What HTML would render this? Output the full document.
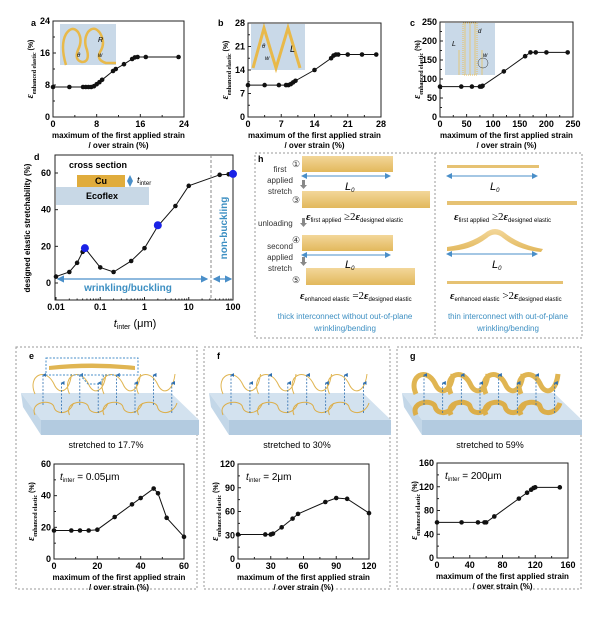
<!DOCTYPE html>
<html><head><meta charset="utf-8"><style>
html,body{margin:0;padding:0;background:#fff;}
svg{display:block;font-family:"Liberation Sans",sans-serif;}
</style></head><body>
<svg id="s" xmlns="http://www.w3.org/2000/svg" width="600" height="623" viewBox="0 0 600 623">
<defs>
<marker id="ah" markerWidth="6" markerHeight="6" refX="5" refY="3" orient="auto"><path d="M0,0L6,3L0,6z" fill="#4a8fc9"/></marker>
<marker id="ahs" markerWidth="6" markerHeight="6" refX="1" refY="3" orient="auto"><path d="M6,0L0,3L6,6z" fill="#4a8fc9"/></marker>
<marker id="up" markerWidth="5" markerHeight="5" refX="2.5" refY="1" orient="auto"><path d="M0,5L2.5,0L5,5z" fill="#2e6fb0"/></marker>
<linearGradient id="gold" x1="0" y1="0" x2="0" y2="1"><stop offset="0" stop-color="#f3d79a"/><stop offset="1" stop-color="#e2b85c"/></linearGradient>
</defs>
<g id="g"></g>
</svg>
<script>
const NS="http://www.w3.org/2000/svg";
const G=document.getElementById("g");
function el(t,a,txt){const e=document.createElementNS(NS,t);for(const k in a)e.setAttribute(k,a[k]);if(txt!==undefined)e.textContent=txt;G.appendChild(e);return e;}
function html(s){G.insertAdjacentHTML("beforeend",s);}
function ylab(x,y,size){
 html(`<text transform="translate(${x},${y}) rotate(-90)" text-anchor="middle" font-size="${size}" font-weight="bold"><tspan font-family="Liberation Serif,serif" font-style="italic" font-size="${size+3}">ε</tspan><tspan font-family="Liberation Serif,serif" font-size="${size-1}" dy="3">enhanced elastic</tspan><tspan dy="-3"> (%)</tspan></text>`);
}
function plot(o){
 const {x0,x1,y0,y1,xmin,xmax,ymin,ymax}=o;
 const X=v=>x0+(v-xmin)/(xmax-xmin)*(x1-x0), Y=v=>y1-(v-ymin)/(ymax-ymin)*(y1-y0);
 el("rect",{x:x0,y:y0,width:x1-x0,height:y1-y0,fill:"none",stroke:"#222","stroke-width":1});
 o.xt.forEach((v,i)=>{el("line",{x1:X(v),x2:X(v),y1:y1,y2:y1-3,stroke:"#222"});el("text",{x:X(v),y:y1+10,"text-anchor":"middle","font-size":9,"font-weight":"bold"},v);
  if(i<o.xt.length-1){const m=(v+o.xt[i+1])/2;el("line",{x1:X(m),x2:X(m),y1:y1,y2:y1-2,stroke:"#222"});}});
 o.yt.forEach((v,i)=>{el("line",{x1:x0,x2:x0+3,y1:Y(v),y2:Y(v),stroke:"#222"});el("text",{x:x0-3,y:Y(v)+3,"text-anchor":"end","font-size":9,"font-weight":"bold"},v);
  if(i<o.yt.length-1){const m=(v+o.yt[i+1])/2;el("line",{x1:x0,x2:x0+2,y1:Y(m),y2:Y(m),stroke:"#222"});}});
 el("polyline",{points:o.d.map(p=>X(p[0])+","+Y(p[1])).join(" "),fill:"none",stroke:"#111","stroke-width":1});
 o.d.forEach(p=>el("circle",{cx:X(p[0]),cy:Y(p[1]),r:2.3,fill:"#111"}));
 const cx=(x0+x1)/2;
 el("text",{x:cx,y:y1+21,"text-anchor":"middle","font-size":8,"font-weight":"bold"},"maximum of the first applied strain");
 el("text",{x:cx,y:y1+31,"text-anchor":"middle","font-size":8,"font-weight":"bold"},"/ over strain (%)");
 ylab(x0-20,(y0+y1)/2,7);
 if(o.lab) el("text",{x:o.lab[0],y:o.lab[1],"font-size":9,"font-weight":"bold"},o.lab[2]);
 return {X,Y};
}
// inset a
el("rect",{x:60,y:24,width:56,height:41,fill:"#c9d9e8"});
html(`<path d="M66,65 Q60,45 66,34 Q72,25 78,32 Q83,40 78,50 Q74,60 82,62 Q90,62 87,50 Q83,40 88,32 Q94,25 100,33 Q106,43 100,52 Q96,60 106,63 L116,63" fill="none" stroke="#e8b94a" stroke-width="2.5"/>
<text x="98" y="42" font-size="7" font-style="italic">R</text><text x="77" y="57" font-size="6" font-style="italic">θ</text><text x="98" y="57" font-size="6" font-style="italic">w</text>`);
plot({x0:53,x1:184,y0:21,y1:117,xmin:0,xmax:24,ymin:0,ymax:24,xt:[0,8,16,24],yt:[0,8,16,24],lab:[31,26,"a"],
 d:[[0,7.5],[3,7.5],[5.5,7.5],[6,7.5],[6.5,7.5],[7,7.5],[7.5,7.7],[8,8.2],[8.5,8.7],[9,9.3],[11,11.5],[11.5,12],[13,13.2],[14.5,14.5],[15,14.9],[15.5,15],[17,15],[23,15]]});
// inset b
el("rect",{x:251,y:24,width:54,height:46,fill:"#c9d9e8"});
html(`<path d="M253,68 L264,28 L276,68 L288,28 L300,68" fill="none" stroke="#e8b94a" stroke-width="3"/><text x="262" y="48" font-size="6" font-style="italic">θ</text><text x="265" y="60" font-size="6" font-style="italic">w</text><text x="290" y="52" font-size="9" font-style="italic">L</text>`);
plot({x0:248,x1:381,y0:23,y1:117,xmin:0,xmax:28,ymin:0,ymax:28,xt:[0,7,14,21,28],yt:[0,7,14,21,28],lab:[218,26,"b"],
 d:[[0,9.5],[3.5,9.5],[6.5,9.5],[8,9.5],[8.5,9.5],[9,9.8],[9.5,10.3],[10,10.8],[14,14],[17.5,17.5],[18,18.3],[18.5,18.6],[19,18.6],[21,18.6],[24,18.6],[27,18.6]]});
// inset c
el("rect",{x:445,y:23,width:50,height:52,fill:"#c9d9e8"});
html(`<g stroke="#e3c77a" stroke-width="1"><path d="M465,23V75M470,23V75M475,23V75M459,50V75M482,50V75M475,23V50" /></g>
<rect x="463" y="23" width="14" height="52" fill="none" stroke="#e8c060" stroke-dasharray="1,1"/>
<text x="452" y="46" font-size="7" font-style="italic">L</text><text x="478" y="33" font-size="6" font-style="italic">d</text><text x="483" y="57" font-size="6" font-style="italic">w</text><circle cx="483" cy="63" r="5" fill="none" stroke="#333" stroke-width="0.5"/>`);
plot({x0:440,x1:573,y0:22,y1:117,xmin:0,xmax:250,ymin:0,ymax:250,xt:[0,50,100,150,200,250],yt:[0,50,100,150,200,250],lab:[410,26,"c"],
 d:[[0,80],[40,80],[60,80],[75,80],[78,80],[80,82],[120,120],[160,160],[170,170],[180,170],[200,170],[240,170]]});

// panel d
(function(){
 const x0=55,x1=233,y0=155,y1=300;
 const X=v=>56+(Math.log10(v)+2)*44.25, Y=v=>283-v*110/60;
 el("rect",{x:x0,y:y0,width:x1-x0,height:y1-y0,fill:"none",stroke:"#222"});
 [0.01,0.1,1,10,100].forEach(v=>{el("line",{x1:X(v),x2:X(v),y1:y1,y2:y1-3,stroke:"#222"});el("text",{x:X(v),y:y1+10,"text-anchor":"middle","font-size":9,"font-weight":"bold"},v);});
 for(let d=-2;d<2;d++)for(let k=2;k<10;k++){const x=X(k*Math.pow(10,d));el("line",{x1:x,x2:x,y1:y1,y2:y1-1.5,stroke:"#222"});}
 [0,20,40,60].forEach(v=>{el("line",{x1:x0,x2:x0+3,y1:Y(v),y2:Y(v),stroke:"#222"});el("text",{x:x0-4,y:Y(v)+3,"text-anchor":"end","font-size":9,"font-weight":"bold"},v);});
 html(`<text transform="translate(30,228) rotate(-90)" text-anchor="middle" font-size="8" font-weight="bold">designed elastic stretchability (%)</text>`);
 html(`<text x="135" y="327" text-anchor="middle" font-size="11"><tspan font-style="italic">t</tspan><tspan font-size="7" dy="2">inter</tspan><tspan dy="-2"> (μm)</tspan></text>`);
 el("text",{x:34,y:160,"font-size":9,"font-weight":"bold"},"d");
 el("text",{x:69,y:168,"font-size":9,"font-weight":"bold"},"cross section");
 el("rect",{x:77,y:175,width:48,height:12,fill:"#e0ac3c"});
 el("text",{x:101,y:184,"text-anchor":"middle","font-size":9,"font-weight":"bold"},"Cu");
 el("rect",{x:56,y:187,width:93,height:18,fill:"#c8d8e6"});
 el("text",{x:102,y:199,"text-anchor":"middle","font-size":9,"font-weight":"bold"},"Ecoflex");
 el("line",{x1:130,x2:130,y1:176,y2:186,stroke:"#4a8fc9","marker-end":"url(#ah)","marker-start":"url(#ahs)"});
 html(`<text x="137" y="183" font-size="9"><tspan font-style="italic">t</tspan><tspan font-size="6" dy="2">inter</tspan></text>`);
 const d=[[0.01,3.5],[0.02,6],[0.03,11],[0.04,17],[0.045,19],[0.1,8.5],[0.2,6],[0.5,12],[1,19],[2,31],[5,42],[10,53],[50,59],[80,59.3],[100,59.5]];
 el("polyline",{points:d.map(p=>X(p[0])+","+Y(p[1])).join(" "),fill:"none",stroke:"#111"});
 d.forEach(p=>el("circle",{cx:X(p[0]),cy:Y(p[1]),r:2.3,fill:"#111"}));
 [[0.045,19],[2,31.5],[100,59.5]].forEach(p=>el("circle",{cx:X(p[0]),cy:Y(p[1]),r:4,fill:"#1a22e6"}));
 el("line",{x1:211,x2:211,y1:y0,y2:y1,stroke:"#888","stroke-dasharray":"3,2"});
 el("line",{x1:58,x2:207,y1:279,y2:279,stroke:"#4a8fc9","stroke-width":1.2,"marker-end":"url(#ah)","marker-start":"url(#ahs)"});
 el("line",{x1:214,x2:231,y1:279,y2:279,stroke:"#4a8fc9","stroke-width":1.2,"marker-end":"url(#ah)","marker-start":"url(#ahs)"});
 el("text",{x:128,y:291,"text-anchor":"middle","font-size":10,"font-weight":"bold",fill:"#3d8fc2"},"wrinkling/buckling");
 html(`<text transform="translate(227,228) rotate(-90)" text-anchor="middle" font-size="10" font-weight="bold" fill="#3d8fc2">non-buckling</text>`);
})();

// panel h
el("rect",{x:255,y:153,width:327,height:185,fill:"none",stroke:"#999","stroke-dasharray":"2,2"});
el("line",{x1:435,x2:435,y1:153,y2:338,stroke:"#999","stroke-dasharray":"2,2"});
html(`<g font-size="8" fill="#333">
<text x="258" y="162" font-weight="bold" fill="#000" font-size="9">h</text>
<text x="280" y="172" text-anchor="middle">first</text><text x="280" y="183" text-anchor="middle">applied</text><text x="280" y="194" text-anchor="middle">stretch</text>
<text x="258" y="226">unloading</text>
<text x="280" y="249" text-anchor="middle">second</text><text x="280" y="260" text-anchor="middle">applied</text><text x="280" y="271" text-anchor="middle">stretch</text>
<text x="292" y="167" font-size="9">①</text><text x="292" y="203" font-size="9">③</text><text x="292" y="243" font-size="9">④</text><text x="292" y="283" font-size="9">⑤</text>
</g>
<g fill="#888"><path d="M302,180h3v5h2l-3.5,4l-3.5,-4h2z"/><path d="M302,218h3v5h2l-3.5,4l-3.5,-4h2z"/><path d="M302,257h3v5h2l-3.5,4l-3.5,-4h2z"/></g>
<rect x="302" y="156" width="91" height="16" fill="url(#gold)"/><rect x="302" y="191" width="128" height="17" fill="url(#gold)"/>
<rect x="302" y="235" width="91" height="16" fill="url(#gold)"/><rect x="306" y="268" width="109" height="17" fill="url(#gold)"/>
<rect x="447" y="165" width="92" height="3" fill="#e6c273"/><rect x="447" y="201" width="130" height="4" fill="#e6c273"/>
<path d="M447,247 Q470,244 485,233 Q495,225 505,233 Q520,245 543,249 L541,252 Q518,250 503,238 Q495,231 487,238 Q470,251 447,251z" fill="url(#gold)"/>
<rect x="447" y="281" width="116" height="3" fill="#e6c273"/>
</g>`);
[[302,390,176],[302,390,255],[447,537,176],[447,537,254]].forEach(a=>el("line",{x1:a[0],x2:a[1],y1:a[2],y2:a[2],stroke:"#4a8fc9","marker-end":"url(#ah)","marker-start":"url(#ahs)"}));
html(`<g font-family="Liberation Serif,serif">
<text x="345" y="190" font-size="11" font-style="italic" font-family="Liberation Sans">L<tspan font-size="6" dy="2">0</tspan></text>
<text x="345" y="268" font-size="11" font-style="italic" font-family="Liberation Sans">L<tspan font-size="6" dy="2">0</tspan></text>
<text x="490" y="190" font-size="11" font-style="italic" font-family="Liberation Sans">L<tspan font-size="6" dy="2">0</tspan></text>
<text x="492" y="268" font-size="11" font-style="italic" font-family="Liberation Sans">L<tspan font-size="6" dy="2">0</tspan></text>
<text x="306" y="220" font-size="11"><tspan font-style="italic" font-weight="bold">ε</tspan><tspan font-size="6" font-family="Liberation Sans" dy="2">first applied</tspan><tspan dy="-2"> ≥2</tspan><tspan font-style="italic" font-weight="bold">ε</tspan><tspan font-size="6" font-family="Liberation Sans" dy="2">designed elastic</tspan></text>
<text x="454" y="220" font-size="11"><tspan font-style="italic" font-weight="bold">ε</tspan><tspan font-size="6" font-family="Liberation Sans" dy="2">first applied</tspan><tspan dy="-2"> ≥2</tspan><tspan font-style="italic" font-weight="bold">ε</tspan><tspan font-size="6" font-family="Liberation Sans" dy="2">designed elastic</tspan></text>
<text x="300" y="299" font-size="11"><tspan font-style="italic" font-weight="bold">ε</tspan><tspan font-size="6" font-family="Liberation Sans" dy="2">enhanced elastic</tspan><tspan dy="-2"> =2</tspan><tspan font-style="italic" font-weight="bold">ε</tspan><tspan font-size="6" font-family="Liberation Sans" dy="2">designed elastic</tspan></text>
<text x="450" y="299" font-size="11"><tspan font-style="italic" font-weight="bold">ε</tspan><tspan font-size="6" font-family="Liberation Sans" dy="2">enhanced elastic</tspan><tspan dy="-2"> &gt;2</tspan><tspan font-style="italic" font-weight="bold">ε</tspan><tspan font-size="6" font-family="Liberation Sans" dy="2">designed elastic</tspan></text>
</g>
<g font-size="8" fill="#3d8fc2" text-anchor="middle">
<text x="345" y="319">thick interconnect without out-of-plane</text><text x="345" y="331">wrinkling/bending</text>
<text x="508" y="319">thin interconnect with out-of-plane</text><text x="508" y="331">wrinkling/bending</text></g>`);

// e f g boxes
[[16,197,"e"],[204,390,"f"],[397,581,"g"]].forEach(b=>{el("rect",{x:b[0],y:347,width:b[1]-b[0],height:242,fill:"none",stroke:"#999","stroke-dasharray":"2,2"});el("text",{x:b[0]+13,y:359,"font-size":9,"font-weight":"bold"},b[2]);});
function scene(x,w,thick,type){
 const sx=x+5, top=393;
 html(`<polygon points="${sx},${top} ${sx+w-28},${top} ${sx+w},${top+27} ${sx+20},${top+27}" fill="#d3e2ef"/>
<polygon points="${sx+20},${top+27} ${sx+w},${top+27} ${sx+w},${top+42} ${sx+20},${top+42}" fill="#b3cbe0"/>
<polygon points="${sx},${top} ${sx+20},${top+27} ${sx+20},${top+42} ${sx+2},${top+14}" fill="#c3d7e8"/>`);
 let d1="",d2="";const n=4,sw=(w-40)/n;
 for(let i=0;i<n;i++){const a=sx+14+i*sw;
  d1+=`M${a},${top+22} C${a-6},${top+8} ${a+sw*0.5},${top+6} ${a+sw*0.55},${top+14} C${a+sw*0.6},${top+22} ${a+sw},${top+22} ${a+sw+4},${top+10} `;
  const ty=366;
  d2+=`M${a},${ty+28} C${a-8},${ty+10} ${a+sw*0.3},${ty} ${a+sw*0.55},${ty+18} C${a+sw*0.7},${ty+30} ${a+sw},${ty+26} ${a+sw+2},${ty+8} `;}
 html(`<path d="${d1}" fill="none" stroke="#dcae49" stroke-width="${thick}"/><path d="${d2}" fill="none" stroke="#e0b552" stroke-width="${thick}"/>`);
 for(let i=0;i<8;i++){const ax=sx+22+i*(w-40)/7.5, b=top+ (i%2?20:12);el("line",{x1:ax,x2:ax,y1:b,y2:b-30,stroke:"#2e6fb0","stroke-width":0.8,"stroke-dasharray":"2,1.5","marker-end":"url(#up)"});}
}
scene(16,178,1,"e");scene(204,182,1,"f");scene(397,180,5,"g");
html(`<rect x="46" y="358" width="92" height="17" fill="none" stroke="#4a8fc9" stroke-dasharray="2,1.5"/><path d="M49,366 Q92,361 135,366 L135,370 Q92,366 49,370z" fill="#e0b552"/><path d="M80,375 L88,384 L100,384 L104,375" fill="none" stroke="#4a8fc9" stroke-dasharray="2,1.5"/>`);
el("text",{x:106,y:448,"text-anchor":"middle","font-size":9},"stretched to 17.7%");
el("text",{x:297,y:448,"text-anchor":"middle","font-size":9},"stretched to 30%");
el("text",{x:490,y:448,"text-anchor":"middle","font-size":9},"stretched to 59%");
plot({x0:54,x1:184,y0:464,y1:559,xmin:0,xmax:60,ymin:0,ymax:60,xt:[0,20,40,60],yt:[0,20,40,60],
 d:[[0,18],[8,18],[12,18],[16,18],[20,18.5],[28,26.5],[36,34.5],[40,38.5],[46,44.5],[48,41.5],[52,26],[60,14]]});
plot({x0:238,x1:369,y0:464,y1:559,xmin:0,xmax:120,ymin:0,ymax:120,xt:[0,30,60,90,120],yt:[0,30,60,90,120],
 d:[[0,31],[25,31],[30,31],[32,32],[40,40],[50,51],[55,57],[80,72],[90,77],[100,76],[120,58]]});
plot({x0:437,x1:568,y0:463,y1:558,xmin:0,xmax:160,ymin:0,ymax:160,xt:[0,40,80,120,160],yt:[0,40,80,120,160],
 d:[[0,60],[30,60],[50,60],[58,60],[60,60],[70,70],[100,100],[110,110],[115,115],[118,118],[120,119],[150,119]]});
[[60,480,"0.05μm"],[246,480,"2μm"],[445,479,"200μm"]].forEach(t=>html(`<text x="${t[0]}" y="${t[1]}" font-size="10"><tspan font-style="italic">t</tspan><tspan font-size="6" dy="2">inter</tspan><tspan dy="-2"> = ${t[2]}</tspan></text>`));
</script>
</body></html>
